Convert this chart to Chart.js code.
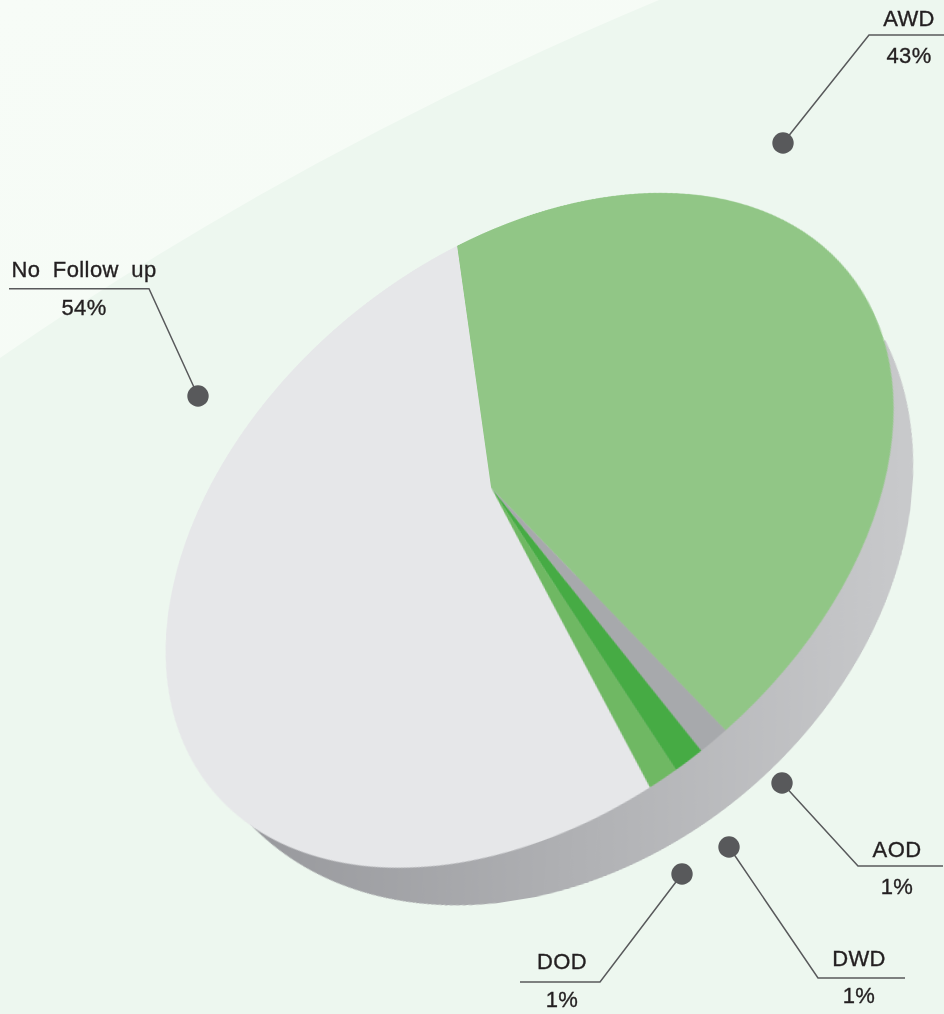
<!DOCTYPE html>
<html><head><meta charset="utf-8">
<script src="https://cdn.jsdelivr.net/npm/chart.js@4"></script>
<style>
html,body{margin:0;padding:0;background:#edf7ef;overflow:hidden}
#stage{position:relative;width:944px;height:1014px;overflow:hidden;background:#edf7ef;font-family:"Liberation Sans",Arial,sans-serif;color:#231f20}
canvas{position:absolute;left:0;top:0;transform-origin:0 0}
svg{position:absolute;left:0;top:0}
#wallClip{position:absolute;left:0;top:0;width:944px;height:1014px;clip-path:polygon(248px 825px,885px 340px,944px 340px,944px 1014px,0 1014px,0 825px)}
.t{position:absolute;font-size:22px;line-height:25px;white-space:nowrap;transform:translateX(-50%);word-spacing:6px;letter-spacing:.4px;-webkit-text-stroke:.35px #231f20}
</style></head><body>
<div id="stage">
<svg width="944" height="1014"><defs><linearGradient id="lg" x1="0" y1="0" x2="1" y2="1"><stop offset="0" stop-color="#f7fcf7"/><stop offset="1" stop-color="#f5fbf5"/></linearGradient></defs>
<path d="M0 0H659Q300 150 0 358Z" fill="url(#lg)"/></svg>
<div id="wallClip"><canvas id="wall" width="1000" height="1000"></canvas></div>
<canvas id="top" width="1000" height="1000"></canvas>
<svg width="944" height="1014" id="lines"></svg>
</div>
<script>
const categories=["AWD","AOD","DWD","DOD","No Follow up"];
const percents=[43,1,1,1,54];
const sliceColors=["#91c686","#a7a9ac","#46ab44","#6fb863","#e6e7e9"];

// label layout: label centre x, name baseline, percent baseline
const labelX=[909,897,859,562,84];
const nameY=[26,857,966,969,277];
const pctY=[63,894,1003,1007,315];
// leader: rule end x, elbow x, elbow y, dot x, dot y
const ruleEnd=[944,943,905,520,9];
const elbowX=[869,858,818,600,149];
const elbowY=[35,866,978,982,288.7];
const dotX=[783,782,729,682,198];
const dotY=[143,783,847,874,396];

// projective maps from the unit disc to the page, fitted to the outlines
const HT=[311.0637,-51.72749,491.142,-198.1849,195.825,487.753,-0.08329479,-0.1875853];
const HW=[365.677,-30.04071,546.3217,-58.66,348.6,551.75,0,0];

function toCss(p){const s=1/400,o=-500/400;
 const a=p[0]*s,b=p[1]*s,c=p[0]*o+p[1]*o+p[2],d=p[3]*s,e=p[4]*s,f=p[3]*o+p[4]*o+p[5],g=p[6]*s,h=p[7]*s,w=p[6]*o+p[7]*o+1;
 return `matrix3d(${a},${d},0,${g},${b},${e},0,${h},0,0,1,0,${c},${f},0,${w})`}
const base={responsive:false,devicePixelRatio:2,animation:false,layout:{padding:100},plugins:{legend:{display:false},tooltip:{enabled:false}},events:[]};
const wc=document.getElementById('wall'),tc=document.getElementById('top');
function wallGrad(ctx){const g=[HW[0]/400,HW[1]/400];const n=g[0]*g[0]+g[1]*g[1];const cx=HW[2];
 const pt=s=>[500+g[0]/n*(s-cx),500+g[1]/n*(s-cx)];const a=pt(250),b=pt(913);
 const gr=ctx.createLinearGradient(a[0],a[1],b[0],b[1]);gr.addColorStop(0,'#98999d');gr.addColorStop(1,'#c9cacc');return gr}
new Chart(wc,{type:'pie',data:{labels:["Pie side"],datasets:[{data:[percents.reduce((a,b)=>a+b,0)],backgroundColor:c=>wallGrad(c.chart.ctx),borderWidth:0}]},options:base});
new Chart(tc,{type:'pie',data:{labels:categories,datasets:[{data:percents,backgroundColor:sliceColors,borderWidth:0}]},options:base});
wc.style.transform=toCss(HW);tc.style.transform=toCss(HT);

const NS='http://www.w3.org/2000/svg',svg=document.getElementById('lines'),stage=document.getElementById('stage');
categories.forEach((name,i)=>{
 const pl=document.createElementNS(NS,'polyline');
 pl.setAttribute('points',`${ruleEnd[i]},${elbowY[i]} ${elbowX[i]},${elbowY[i]} ${dotX[i]},${dotY[i]}`);
 pl.setAttribute('fill','none');pl.setAttribute('stroke','#58595b');pl.setAttribute('stroke-width','1.5');svg.appendChild(pl);
 const c=document.createElementNS(NS,'circle');c.setAttribute('cx',dotX[i]);c.setAttribute('cy',dotY[i]);c.setAttribute('r','10.7');c.setAttribute('fill','#58595b');svg.appendChild(c);
 [[name,nameY[i]],[percents[i]+'%',pctY[i]]].forEach(([txt,y])=>{const d=document.createElement('div');d.className='t';d.textContent=txt;d.style.left=labelX[i]+'px';d.style.top=(y-20)+'px';stage.appendChild(d)});
});
</script>
</body></html>
